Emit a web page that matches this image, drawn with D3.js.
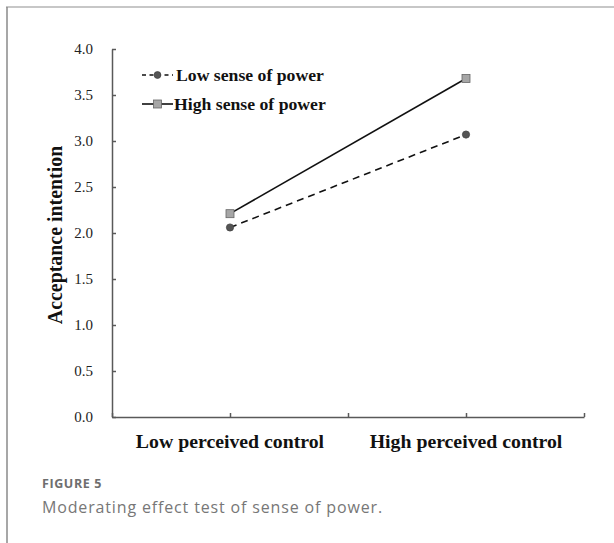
<!DOCTYPE html>
<html><head><meta charset="utf-8">
<script src="https://cdn.jsdelivr.net/npm/d3@7"></script>
<style>body{margin:0;background:#fff}svg{display:block}</style>
</head><body>
<script>
const categories = ["Low perceived control", "High perceived control"];
const categoryPos = [1, 3];
const seriesNames = ["Low sense of power", "High sense of power"];
const lowPower = [2.06, 3.07];
const highPower = [2.21, 3.68];
const yTicks = [0, 0.5, 1, 1.5, 2, 2.5, 3, 3.5, 4];
const xTicks = [0, 1, 2, 3, 4];

const W = 614, H = 543;
const svg = d3.select("body").append("svg").attr("width", W).attr("height", H);

// frame
svg.append("line").attr("x1", 6).attr("x2", W).attr("y1", 7).attr("y2", 7).attr("stroke", "#b5b5b5").attr("stroke-width", 1.5);
svg.append("line").attr("x1", 7).attr("x2", 7).attr("y1", 7).attr("y2", H).attr("stroke", "#8a8a8a").attr("stroke-width", 1.5);

const x = d3.scaleLinear().domain([0, 4]).range([112, 584]);
const y = d3.scaleLinear().domain([0, 4]).range([417, 49]);
const axisColor = "#595959";
const serif = "'Liberation Serif','Times New Roman',serif";

// y axis
const ya = svg.append("g").attr("transform", `translate(${x(0)},0)`)
  .call(d3.axisLeft(y).tickValues(yTicks).tickFormat(d3.format(".1f")).tickSizeInner(-4).tickSizeOuter(0).tickPadding(19));
ya.select(".domain").attr("stroke", axisColor).attr("stroke-width", 1.5);
ya.selectAll(".tick line").attr("stroke", axisColor).attr("stroke-width", 1.5);
ya.selectAll("text").attr("font-family", serif).attr("font-size", 15).attr("fill", "#222");

// x axis
const xa = svg.append("g").attr("transform", `translate(0,${y(0)})`)
  .call(d3.axisBottom(x).tickValues(xTicks).tickFormat("").tickSizeInner(-4).tickSizeOuter(0));
xa.select(".domain").attr("stroke", axisColor).attr("stroke-width", 1.5);
xa.selectAll(".tick line").attr("stroke", axisColor).attr("stroke-width", 1.5);

// category labels
svg.selectAll(".cat").data(categories).enter().append("text")
  .attr("x", (d, i) => x(categoryPos[i])).attr("y", 448)
  .attr("text-anchor", "middle").attr("font-family", serif).attr("font-weight", "bold")
  .attr("font-size", 19.8).attr("fill", "#111").text(d => d);

// y title
svg.append("text").attr("transform", `translate(62,${y(2) + 2}) rotate(-90)`)
  .attr("text-anchor", "middle").attr("font-family", serif).attr("font-weight", "bold")
  .attr("font-size", 19.9).attr("fill", "#111").text("Acceptance intention");

const line = d3.line().x((d, i) => x(categoryPos[i])).y(d => y(d));

// low power series (dashed, circle)
svg.append("path").attr("d", line(lowPower)).attr("fill", "none").attr("stroke", "#111")
  .attr("stroke-width", 1.6).attr("stroke-dasharray", "7,5");
svg.selectAll(".lp").data(lowPower).enter().append("circle")
  .attr("cx", (d, i) => x(categoryPos[i])).attr("cy", d => y(d)).attr("r", 3.6)
  .attr("fill", "#555").attr("stroke", "#444").attr("stroke-width", 0.8);

// high power series (solid, square)
svg.append("path").attr("d", line(highPower)).attr("fill", "none").attr("stroke", "#111").attr("stroke-width", 1.6);
svg.selectAll(".hp").data(highPower).enter().append("rect")
  .attr("x", (d, i) => x(categoryPos[i]) - 4).attr("y", d => y(d) - 4).attr("width", 8).attr("height", 8)
  .attr("fill", "#a6a6a6").attr("stroke", "#666").attr("stroke-width", 0.8);

// legend
const lg = svg.append("g");
const ly = [75, 104];
lg.append("line").attr("x1", 142).attr("x2", 173).attr("y1", ly[0]).attr("y2", ly[0])
  .attr("stroke", "#111").attr("stroke-width", 1.6).attr("stroke-dasharray", "4,3.5");
lg.append("circle").attr("cx", 157.5).attr("cy", ly[0]).attr("r", 3.4).attr("fill", "#555").attr("stroke", "#444").attr("stroke-width", 0.8);
lg.append("line").attr("x1", 142).attr("x2", 173).attr("y1", ly[1]).attr("y2", ly[1])
  .attr("stroke", "#111").attr("stroke-width", 1.6);
lg.append("rect").attr("x", 153.5).attr("y", ly[1] - 4).attr("width", 8).attr("height", 8)
  .attr("fill", "#a6a6a6").attr("stroke", "#666").attr("stroke-width", 0.8);
lg.selectAll(".lt").data(seriesNames).enter().append("text")
  .attr("x", (d, i) => i === 0 ? 176 : 174).attr("y", (d, i) => ly[i] + 6)
  .attr("font-family", serif).attr("font-weight", "bold").attr("font-size", 17.7).attr("fill", "#111").text(d => d);

// caption
svg.append("text").attr("x", 42).attr("y", 488).attr("font-family", "'Open Sans',sans-serif")
  .attr("font-weight", "bold").attr("font-size", 12.5).attr("letter-spacing", 0.6).attr("fill", "#6e6e6e").text("FIGURE 5");
svg.append("text").attr("x", 42).attr("y", 513).attr("font-family", "'Open Sans',sans-serif")
  .attr("font-size", 16).attr("letter-spacing", 0.85).attr("fill", "#777").text("Moderating effect test of sense of power.");
</script>
</body></html>
